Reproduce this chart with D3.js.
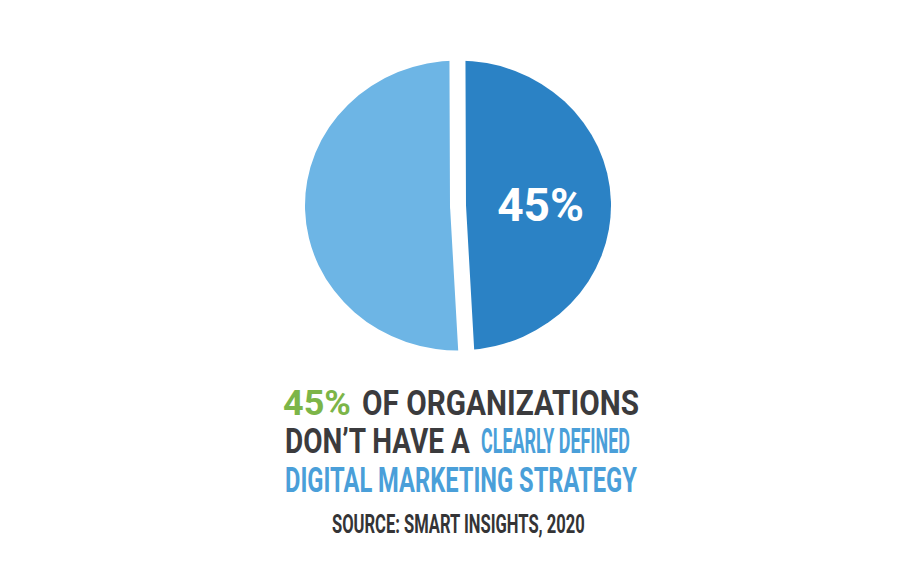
<!DOCTYPE html>
<html>
<head>
<meta charset="utf-8">
<script src="https://cdn.jsdelivr.net/npm/d3@7"></script>
<style>
  html, body { margin: 0; padding: 0; background: #ffffff; }
  svg { display: block; }
</style>
</head>
<body>
<svg id="chart" width="916" height="573"></svg>
<script>
// ---- data ----
const categories = ["No clearly defined strategy", "Other organizations"];
const sliceValues = [49.2, 50.8];          // drawn share of each slice as it appears
const sliceColors = ["#2b82c5", "#6db5e5"];
const sliceLabels = ["45%", ""];
const titleLines = [
  [{ t: "45%", c: "#7cb548", x0: 283, x1: 351 }, { t: "OF ORGANIZATIONS", c: "#3b3b3d", x0: 362, x1: 639 }],
  [{ t: "DON\u2019T HAVE A", c: "#3b3b3d", x0: 285, x1: 470 }, { t: "CLEARLY DEFINED", c: "#4a9fd9", x0: 481, x1: 630 }],
  [{ t: "DIGITAL MARKETING STRATEGY", c: "#4a9fd9", x0: 285, x1: 637 }]
];
const titleBaselines = [415, 453, 492];
const sourceText = "SOURCE: SMART INSIGHTS, 2020";

// ---- drawing ----
const svg = d3.select("#chart");
const cx = 458, cy = 205.5, rx = 153, ry = 145;
const gap = 16;
const start = -0.2 * Math.PI / 180;

const pie = d3.pie().sort(null).value(d => d)
  .startAngle(start)
  .endAngle(2 * Math.PI + start);
const arc = d3.arc().innerRadius(0).outerRadius(rx);

const arcs = pie(sliceValues);
const g = svg.append("g").attr("transform", `translate(${cx},${cy})`);
const gs = g.append("g").attr("transform", `scale(1,${ry / rx})`);
gs.selectAll("path.slice").data(arcs).join("path")
  .attr("class", "slice")
  .attr("d", arc)
  .attr("fill", (d, i) => sliceColors[i]);

// white gaps along each slice boundary (uniform width)
g.selectAll("line.gap").data(arcs).join("line")
  .attr("class", "gap")
  .attr("x1", 0).attr("y1", 0)
  .attr("x2", d => Math.sin(d.startAngle) * (rx + 6))
  .attr("y2", d => -Math.cos(d.startAngle) * (ry + 6))
  .attr("stroke", "#ffffff")
  .attr("stroke-width", gap)
  .attr("stroke-linecap", "round");

const labelArc = d3.arc().innerRadius(0).outerRadius(rx * 1.08);
g.selectAll("text.pct").data(arcs).join("text")
  .attr("class", "pct")
  .attr("transform", d => { const c = labelArc.centroid(d); return `translate(${c[0]},${c[1] * ry / rx + 18})`; })
  .attr("text-anchor", "middle")
  .attr("font-family", "Roboto, 'Liberation Sans', sans-serif")
  .attr("font-weight", 700)
  .attr("font-size", 46)
  .attr("fill", "#ffffff")
  .text((d, i) => sliceLabels[i]);

// condensed text helper: draw at natural size then scale horizontally to fit
function condensed(txt, x0, x1, base, size, color) {
  const t = svg.append("text")
    .attr("x", 0).attr("y", 0)
    .attr("font-family", "Roboto, 'Liberation Sans', sans-serif")
    .attr("font-weight", 700)
    .attr("font-size", size)
    .attr("fill", color)
    .text(txt);
  const w = t.node().getComputedTextLength();
  t.attr("transform", `translate(${x0},${base}) scale(${(x1 - x0) / w},1)`);
  return t;
}

titleLines.forEach((line, li) => {
  line.forEach(seg => condensed(seg.t, seg.x0, seg.x1, titleBaselines[li], 35, seg.c));
});

condensed(sourceText, 332, 585, 533, 25, "#343436");
</script>
</body>
</html>
